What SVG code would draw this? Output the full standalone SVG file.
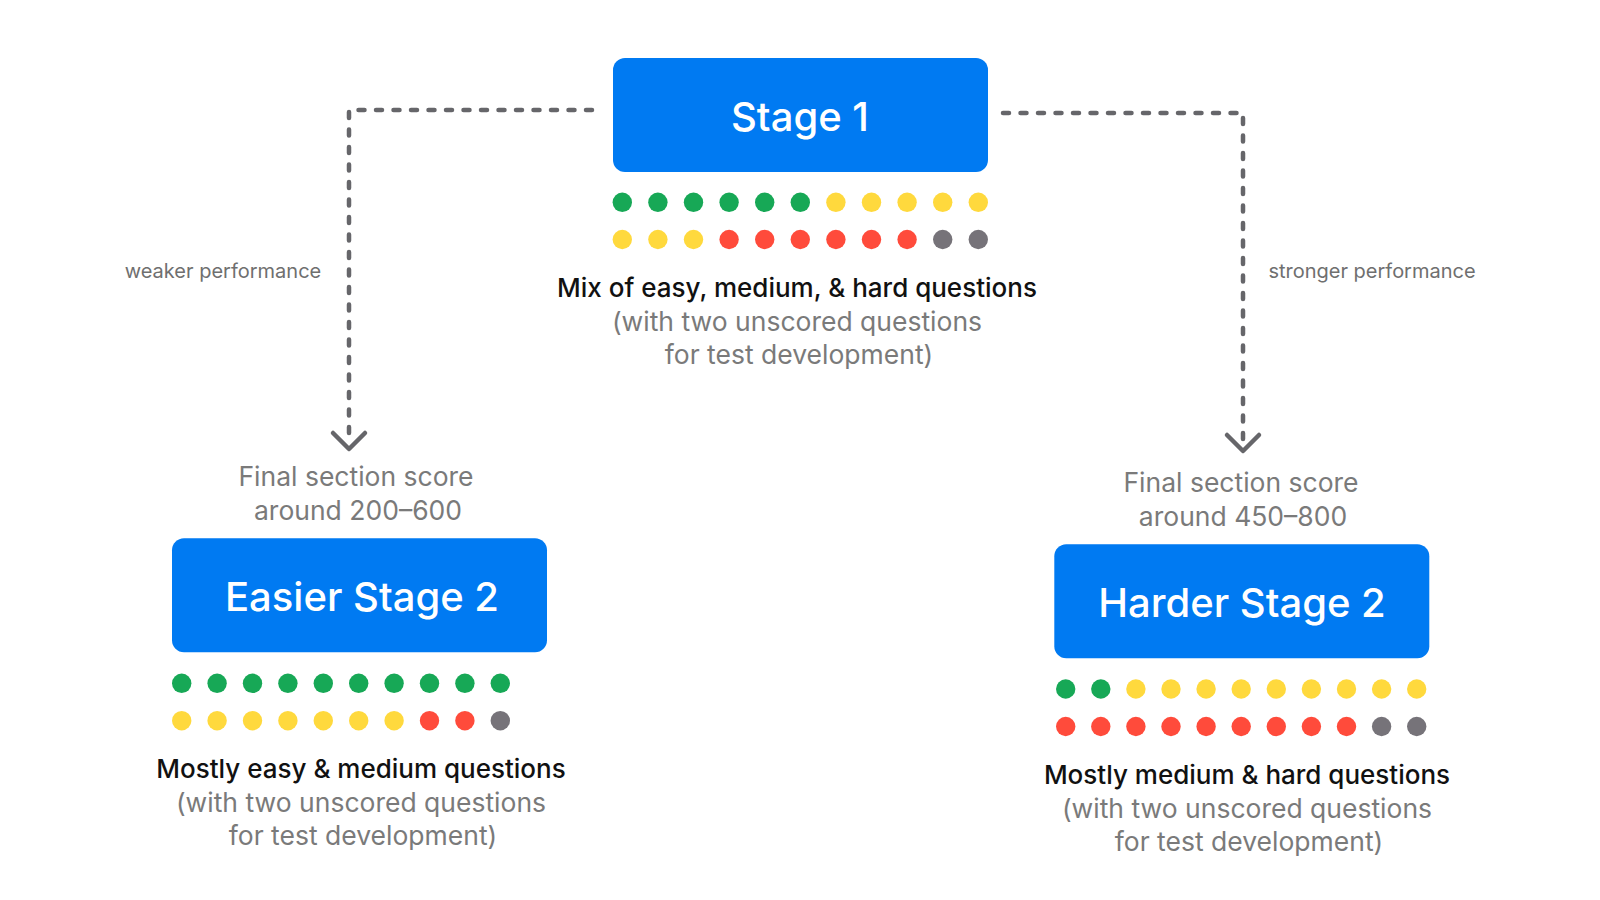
<svg xmlns="http://www.w3.org/2000/svg" width="1600" height="900" viewBox="0 0 1600 900">
<style>
.box{fill:#007AF2}
.title{font-family:Inter,"Noto Sans",sans-serif;font-size:40px;font-weight:500;fill:#fff;text-anchor:middle}
.g{fill:#17A856}.y{fill:#FFD93D}.r{fill:#FF4B3B}.k{fill:#767379}
.main{font-family:Inter,"Noto Sans",sans-serif;font-size:26px;font-weight:500;fill:#111;text-anchor:middle}
.sub{font-family:Inter,"Noto Sans",sans-serif;font-size:26.5px;fill:#7a7a7a;text-anchor:middle}
.lbl{font-family:Inter,"Noto Sans",sans-serif;font-size:20px;fill:#6f6f6f;text-anchor:middle}
.conn{fill:none;stroke:#66666a;stroke-width:4.5;stroke-dasharray:6 11.5;stroke-linecap:round;stroke-linejoin:round}
.head{fill:none;stroke:#66666a;stroke-width:4.5;stroke-linecap:round;stroke-linejoin:round}
</style>
<rect width="1600" height="900" fill="#fff"/>
<g id="connectors">
<path class="conn" d="M592 110 H349 V440"/>
<polyline class="head" points="333,433 349,449 365,433"/>
<path class="conn" d="M1003 113 H1243 V442"/>
<polyline class="head" points="1227,435 1243,451 1259,435"/>
<text class="lbl" x="223" y="278">weaker performance</text>
<text class="lbl" x="1372" y="278">stronger performance</text>
</g>
<g id="stage1">
<rect class="box" x="613" y="58" width="375" height="114" rx="12"/>
<text class="title" x="800" y="131">Stage 1</text>
<g>
<circle class="g" cx="622.3" cy="202.3" r="9.7"/><circle class="g" cx="657.9" cy="202.3" r="9.7"/><circle class="g" cx="693.5" cy="202.3" r="9.7"/><circle class="g" cx="729.1" cy="202.3" r="9.7"/><circle class="g" cx="764.7" cy="202.3" r="9.7"/><circle class="g" cx="800.3" cy="202.3" r="9.7"/><circle class="y" cx="835.9" cy="202.3" r="9.7"/><circle class="y" cx="871.5" cy="202.3" r="9.7"/><circle class="y" cx="907.1" cy="202.3" r="9.7"/><circle class="y" cx="942.7" cy="202.3" r="9.7"/><circle class="y" cx="978.3" cy="202.3" r="9.7"/>
<circle class="y" cx="622.3" cy="239.5" r="9.7"/><circle class="y" cx="657.9" cy="239.5" r="9.7"/><circle class="y" cx="693.5" cy="239.5" r="9.7"/><circle class="r" cx="729.1" cy="239.5" r="9.7"/><circle class="r" cx="764.7" cy="239.5" r="9.7"/><circle class="r" cx="800.3" cy="239.5" r="9.7"/><circle class="r" cx="835.9" cy="239.5" r="9.7"/><circle class="r" cx="871.5" cy="239.5" r="9.7"/><circle class="r" cx="907.1" cy="239.5" r="9.7"/><circle class="k" cx="942.7" cy="239.5" r="9.7"/><circle class="k" cx="978.3" cy="239.5" r="9.7"/>
</g>
<text class="main" x="797" y="297">Mix of easy, medium, &amp; hard questions</text>
<text class="sub" x="797" y="330.5">(with two unscored questions</text>
<text class="sub" x="799" y="364">for test development)</text>
</g>
<g id="easier">
<text class="sub" x="356" y="485.5">Final section score</text>
<text class="sub" x="358" y="519.5">around 200–600</text>
<rect class="box" x="172" y="538.3" width="375" height="114" rx="12"/>
<text class="title" x="362" y="611">Easier Stage 2</text>
<g>
<circle class="g" cx="181.7" cy="683.3" r="9.7"/><circle class="g" cx="217.1" cy="683.3" r="9.7"/><circle class="g" cx="252.5" cy="683.3" r="9.7"/><circle class="g" cx="287.9" cy="683.3" r="9.7"/><circle class="g" cx="323.3" cy="683.3" r="9.7"/><circle class="g" cx="358.7" cy="683.3" r="9.7"/><circle class="g" cx="394.1" cy="683.3" r="9.7"/><circle class="g" cx="429.5" cy="683.3" r="9.7"/><circle class="g" cx="464.9" cy="683.3" r="9.7"/><circle class="g" cx="500.3" cy="683.3" r="9.7"/>
<circle class="y" cx="181.7" cy="720.7" r="9.7"/><circle class="y" cx="217.1" cy="720.7" r="9.7"/><circle class="y" cx="252.5" cy="720.7" r="9.7"/><circle class="y" cx="287.9" cy="720.7" r="9.7"/><circle class="y" cx="323.3" cy="720.7" r="9.7"/><circle class="y" cx="358.7" cy="720.7" r="9.7"/><circle class="y" cx="394.1" cy="720.7" r="9.7"/><circle class="r" cx="429.5" cy="720.7" r="9.7"/><circle class="r" cx="464.9" cy="720.7" r="9.7"/><circle class="k" cx="500.3" cy="720.7" r="9.7"/>
</g>
<text class="main" x="361" y="778">Mostly easy &amp; medium questions</text>
<text class="sub" x="361" y="811.5">(with two unscored questions</text>
<text class="sub" x="363" y="845">for test development)</text>
</g>
<g id="harder">
<text class="sub" x="1241" y="491.5">Final section score</text>
<text class="sub" x="1243" y="525.5">around 450–800</text>
<rect class="box" x="1054.3" y="544.3" width="375" height="114" rx="12"/>
<text class="title" x="1242" y="617">Harder Stage 2</text>
<g>
<circle class="g" cx="1065.7" cy="689" r="9.7"/><circle class="g" cx="1100.8" cy="689" r="9.7"/><circle class="y" cx="1135.9" cy="689" r="9.7"/><circle class="y" cx="1171" cy="689" r="9.7"/><circle class="y" cx="1206.1" cy="689" r="9.7"/><circle class="y" cx="1241.2" cy="689" r="9.7"/><circle class="y" cx="1276.3" cy="689" r="9.7"/><circle class="y" cx="1311.4" cy="689" r="9.7"/><circle class="y" cx="1346.5" cy="689" r="9.7"/><circle class="y" cx="1381.6" cy="689" r="9.7"/><circle class="y" cx="1416.7" cy="689" r="9.7"/>
<circle class="r" cx="1065.7" cy="726.5" r="9.7"/><circle class="r" cx="1100.8" cy="726.5" r="9.7"/><circle class="r" cx="1135.9" cy="726.5" r="9.7"/><circle class="r" cx="1171" cy="726.5" r="9.7"/><circle class="r" cx="1206.1" cy="726.5" r="9.7"/><circle class="r" cx="1241.2" cy="726.5" r="9.7"/><circle class="r" cx="1276.3" cy="726.5" r="9.7"/><circle class="r" cx="1311.4" cy="726.5" r="9.7"/><circle class="r" cx="1346.5" cy="726.5" r="9.7"/><circle class="k" cx="1381.6" cy="726.5" r="9.7"/><circle class="k" cx="1416.7" cy="726.5" r="9.7"/>
</g>
<text class="main" x="1247" y="784">Mostly medium &amp; hard questions</text>
<text class="sub" x="1247" y="817.5">(with two unscored questions</text>
<text class="sub" x="1249" y="851">for test development)</text>
</g>
</svg>
